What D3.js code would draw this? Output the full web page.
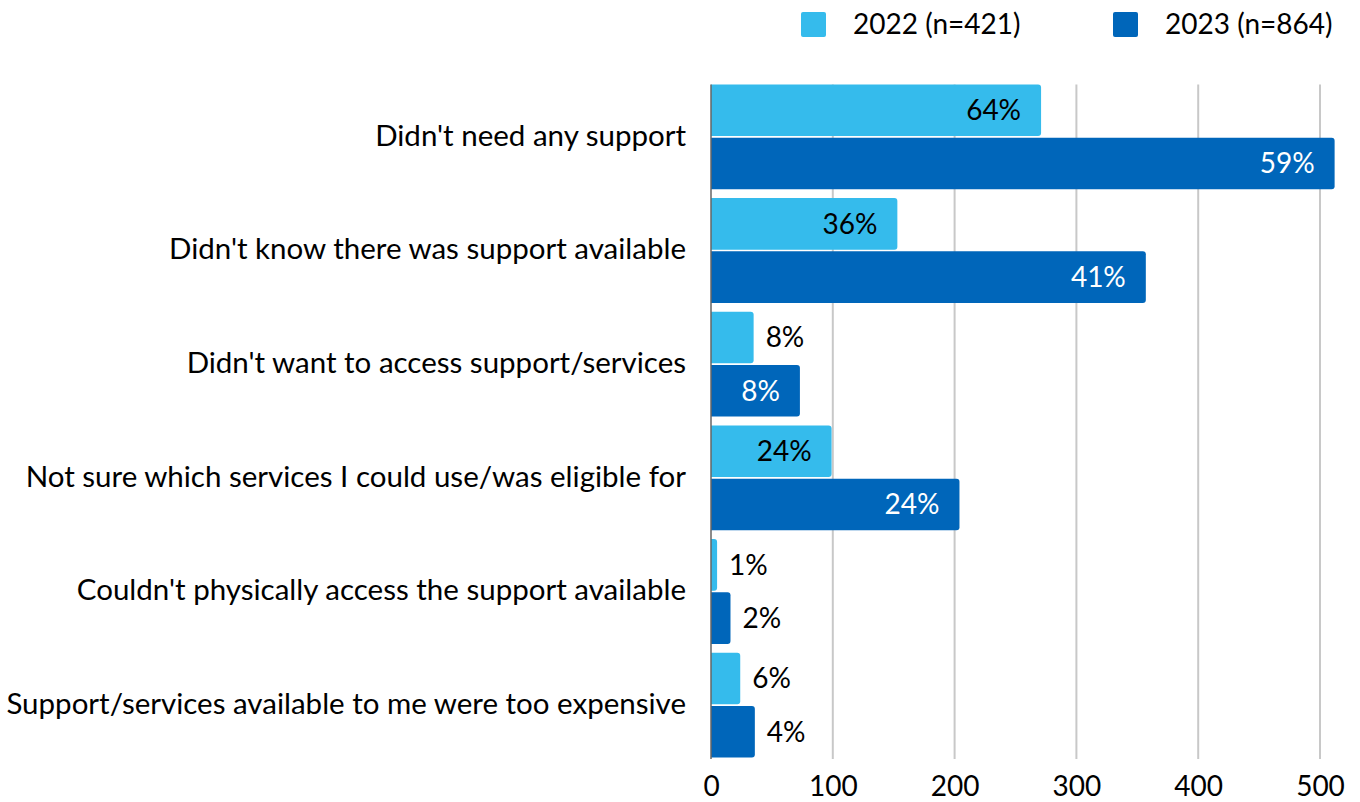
<!DOCTYPE html>
<html>
<head>
<meta charset="utf-8">
<script src="https://cdn.jsdelivr.net/npm/d3@7"></script>
<style>
  body { margin: 0; background: #fff; }
  text { font-family: Lato, 'Noto Sans', sans-serif; fill: #000; }
</style>
</head>
<body>
<svg id="chart" width="1360" height="802"></svg>
<script>
const categories = [
  "Didn't need any support",
  "Didn't know there was support available",
  "Didn't want to access support/services",
  "Not sure which services I could use/was eligible for",
  "Couldn't physically access the support available",
  "Support/services available to me were too expensive"
];
const seriesNames = ['2022 (n=421)', '2023 (n=864)'];
const counts2022 = [271, 153, 35, 99, 5, 24];
const counts2023 = [512, 357, 73, 204, 16, 36];
const pct2022 = ['64%', '36%', '8%', '24%', '1%', '6%'];
const pct2023 = ['59%', '41%', '8%', '24%', '2%', '4%'];
const xTicks = [0, 100, 200, 300, 400, 500];

const colors = ['#35bbec', '#0066ba'];

const svg = d3.select('#chart');
const margin = {top: 80, right: 40, bottom: 40, left: 711};
const plotRight = 1320;
const plotBottom = 762;

const data = categories.map((c, i) => ({
  cat: c,
  vals: [
    {s: 0, v: counts2022[i], p: pct2022[i]},
    {s: 1, v: counts2023[i], p: pct2023[i]}
  ]
}));

const x = d3.scaleLinear()
  .domain([0, 500])
  .range([margin.left, plotRight]);

const y = d3.scaleBand()
  .domain(categories)
  .range([margin.top, plotBottom])
  .paddingInner(0.077)
  .paddingOuter(0.0385);

const ySub = d3.scaleBand()
  .domain([0, 1])
  .range([0, y.bandwidth()])
  .paddingInner(0.03);

const gridTop = y(categories[0]);
const gridBottom = 759;

// bar shape with rounded right corners only
const barPath = (x0, y0, w, h, r) => {
  r = Math.min(r, w / 2, h / 2);
  return `M${x0},${y0}H${x0 + w - r}Q${x0 + w},${y0} ${x0 + w},${y0 + r}` +
         `V${y0 + h - r}Q${x0 + w},${y0 + h} ${x0 + w - r},${y0 + h}H${x0}Z`;
};

// gridlines
svg.append('g')
  .selectAll('line')
  .data(xTicks.slice(1))
  .enter().append('line')
    .attr('x1', d => x(d))
    .attr('x2', d => x(d))
    .attr('y1', gridTop)
    .attr('y2', gridBottom)
    .attr('stroke', '#c8c8c8')
    .attr('stroke-width', 2);

// x axis labels
const xAxisG = svg.append('g')
  .attr('transform', `translate(0,${gridBottom})`)
  .call(d3.axisBottom(x).tickValues(xTicks).tickSize(0).tickPadding(17));
xAxisG.select('.domain').remove();
xAxisG.selectAll('text')
  .style('font-family', 'Lato, sans-serif')
  .style('font-size', '28px')
  .attr('fill', '#000');

// bars
const groups = svg.append('g')
  .selectAll('g')
  .data(data)
  .enter().append('g')
    .attr('transform', d => `translate(0,${y(d.cat)})`);

groups.selectAll('path')
  .data(d => d.vals)
  .enter().append('path')
    .attr('d', d => barPath(x(0), ySub(d.s), x(d.v) - x(0), ySub.bandwidth(), 3))
    .attr('fill', d => colors[d.s]);

// value labels
groups.selectAll('.label')
  .data(d => d.vals)
  .enter().append('text')
    .attr('class', 'label')
    .attr('y', d => ySub(d.s) + ySub.bandwidth() / 2)
    .attr('dy', '0.35em')
    .style('font-size', '28px')
    .each(function(d) {
      const w = x(d.v) - x(0);
      const t = d3.select(this);
      if (w > 60) {
        t.attr('x', x(d.v) - 20).attr('text-anchor', 'end')
         .style('fill', d.s === 1 ? '#fff' : '#000');
      } else {
        t.attr('x', x(d.v) + 12).attr('text-anchor', 'start')
         .style('fill', '#000');
      }
    })
    .text(d => d.p);

// category labels
svg.append('g')
  .selectAll('text')
  .data(categories)
  .enter().append('text')
    .attr('x', 686)
    .attr('y', d => y(d) + y.bandwidth() / 2)
    .attr('dy', '0.3em')
    .attr('text-anchor', 'end')
    .style('font-size', '29.5px')
    .text(d => d);

// axis line at zero
svg.append('line')
  .attr('x1', x(0))
  .attr('x2', x(0))
  .attr('y1', gridTop)
  .attr('y2', gridBottom)
  .attr('stroke', '#666')
  .attr('stroke-width', 1.5);

// legend
const legendX = [801, 1113];
const legend = svg.append('g')
  .selectAll('g')
  .data(seriesNames)
  .enter().append('g')
    .attr('transform', (d, i) => `translate(${legendX[i]},12)`);

legend.append('rect')
  .attr('width', 25)
  .attr('height', 25)
  .attr('rx', 2)
  .attr('fill', (d, i) => colors[i]);

legend.append('text')
  .attr('x', 52)
  .attr('y', 12.5)
  .attr('dy', '0.35em')
  .style('font-size', '28px')
  .text(d => d);
</script>
</body>
</html>
